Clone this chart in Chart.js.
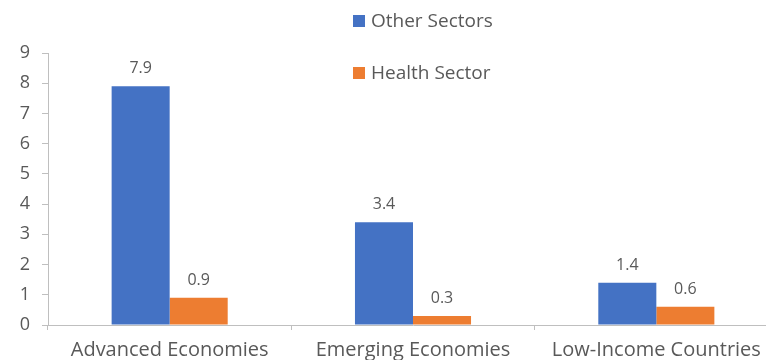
<!DOCTYPE html>
<html>
<head>
<meta charset="utf-8">
<script src="https://cdn.jsdelivr.net/npm/chart.js@4/dist/chart.umd.min.js"></script>
<style>
  html, body { margin: 0; padding: 0; background: #fff; overflow: hidden; }
  #wrap { width: 780px; height: 360px; position: relative; }
</style>
</head>
<body>
<div id="wrap"><canvas id="c"></canvas></div>
<script>
const categories = ['Advanced Economies', 'Emerging Economies', 'Low-Income Countries'];
const otherSectors = [7.9, 3.4, 1.4];
const healthSector = [0.9, 0.3, 0.6];
const seriesNames = ['Other Sectors', 'Health Sector'];

const FONT = '"Open Sans", "Noto Sans", sans-serif';
const TEXT = '#595959';
const AXIS = '#bfbfbf';

// Value labels above each bar
const valueLabels = {
  id: 'valueLabels',
  afterDatasetsDraw(chart) {
    const ctx = chart.ctx;
    ctx.save();
    ctx.font = '16px ' + FONT;
    ctx.fillStyle = TEXT;
    ctx.textAlign = 'center';
    ctx.textBaseline = 'alphabetic';
    chart.data.datasets.forEach((ds, i) => {
      chart.getDatasetMeta(i).data.forEach((bar, j) => {
        ctx.fillText(ds.data[j].toFixed(1), bar.x, bar.y - 13);
      });
    });
    ctx.restore();
  }
};

// Stacked legend near the top centre
const stackedLegend = {
  id: 'stackedLegend',
  afterDraw(chart) {
    const ctx = chart.ctx;
    ctx.save();
    ctx.font = '19px ' + FONT;
    ctx.textBaseline = 'middle';
    ctx.textAlign = 'left';
    const x = 353, ys = [21, 73];
    chart.data.datasets.forEach((ds, i) => {
      ctx.fillStyle = ds.backgroundColor;
      ctx.fillRect(x, ys[i] - 6, 12, 12);
      ctx.fillStyle = TEXT;
      ctx.fillText(ds.label, x + 18, ys[i] + 1);
    });
    ctx.restore();
  }
};

new Chart(document.getElementById('c'), {
  type: 'bar',
  data: {
    labels: categories,
    datasets: [
      { label: seriesNames[0], data: otherSectors, backgroundColor: '#4472C4' },
      { label: seriesNames[1], data: healthSector, backgroundColor: '#ED7D31' }
    ]
  },
  options: {
    responsive: true,
    maintainAspectRatio: false,
    animation: false,
    layout: { padding: { top: 53, right: 2, left: 0, bottom: 0 } },
    datasets: { bar: { categoryPercentage: 0.477, barPercentage: 1.0 } },
    plugins: {
      legend: { display: false },
      tooltip: { enabled: false }
    },
    scales: {
      x: {
        afterFit(scale) { scale.height = 35; },
        grid: {
          offset: true,
          drawOnChartArea: false,
          drawTicks: true,
          tickLength: 5,
          color: AXIS
        },
        border: { color: AXIS, width: 1 },
        ticks: {
          color: TEXT,
          font: { family: FONT, size: 20 },
          padding: 8,
          maxRotation: 0
        }
      },
      y: {
        min: 0,
        max: 9,
        afterFit(scale) { scale.width = 48; },
        grid: {
          drawOnChartArea: false,
          drawTicks: true,
          tickLength: 6,
          color: AXIS
        },
        border: { color: AXIS, width: 1 },
        ticks: {
          stepSize: 1,
          color: TEXT,
          font: { family: FONT, size: 18 },
          padding: 12
        }
      }
    }
  },
  plugins: [valueLabels, stackedLegend]
});
</script>
</body>
</html>
